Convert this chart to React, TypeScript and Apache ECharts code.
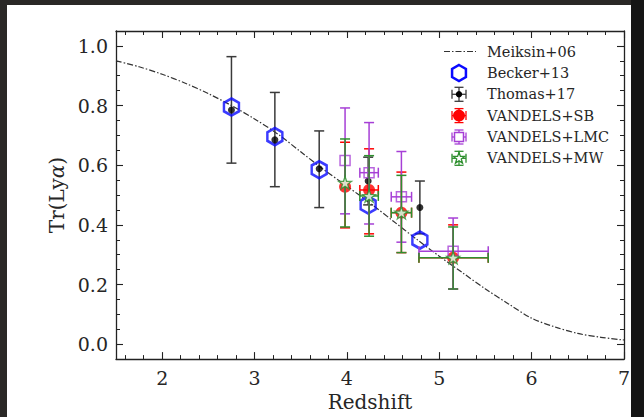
import React, { useEffect, useRef } from "react";
import * as echarts from "echarts";

// ---- data ----
const meiksinZ = [1.5, 1.75, 2.0, 2.25, 2.5, 2.75, 3.0, 3.25, 3.5, 3.75, 4.0, 4.25, 4.5, 4.75, 5.0, 5.25, 5.5, 5.75, 6.0, 6.25, 6.5, 6.75, 7.0];
const meiksinTr = [0.95, 0.93, 0.905, 0.875, 0.84, 0.8, 0.755, 0.705, 0.645, 0.585, 0.53, 0.473, 0.413, 0.353, 0.295, 0.24, 0.185, 0.135, 0.087, 0.058, 0.036, 0.023, 0.014];

const beckerZ = [2.75, 3.22, 3.7, 4.23, 4.79];
const beckerTr = [0.795, 0.696, 0.585, 0.467, 0.349];

const thomasZ = [2.75, 3.22, 3.7, 4.23, 4.79];
const thomasTr = [0.785, 0.685, 0.588, 0.547, 0.458];
const thomasLo = [0.607, 0.528, 0.458, 0.467, 0.37];
const thomasHi = [0.964, 0.844, 0.715, 0.627, 0.547];

const vandelsZ = [3.98, 4.24, 4.59, 5.15];
const vandelsZLo = [3.98, 4.14, 4.48, 4.78];
const vandelsZHi = [3.98, 4.34, 4.7, 5.53];

const sbTr = [0.528, 0.517, 0.441, 0.29];
const sbLo = [0.39, 0.37, 0.307, 0.185];
const sbHi = [0.677, 0.655, 0.577, 0.4];

const lmcTr = [0.616, 0.575, 0.494, 0.312];
const lmcLo = [0.437, 0.403, 0.342, 0.185];
const lmcHi = [0.792, 0.743, 0.646, 0.423];

const mwTr = [0.541, 0.497, 0.441, 0.29];
const mwLo = [0.393, 0.362, 0.307, 0.185];
const mwHi = [0.688, 0.632, 0.566, 0.393];

const xMajor = [2, 3, 4, 5, 6, 7];
const xMinor = [1.6, 1.8, 2.0, 2.2, 2.4, 2.6, 2.8, 3.0, 3.2, 3.4, 3.6, 3.8, 4.0, 4.2, 4.4, 4.6, 4.8, 5.0, 5.2, 5.4, 5.6, 5.8, 6.0, 6.2, 6.4, 6.6, 6.8, 7.0];
const yMajor = [0, 0.2, 0.4, 0.6, 0.8, 1.0];
const yMinor = [0, 0.05, 0.1, 0.15, 0.2, 0.25, 0.3, 0.35, 0.4, 0.45, 0.5, 0.55, 0.6, 0.65, 0.7, 0.75, 0.8, 0.85, 0.9, 0.95, 1.0];

const legendNames = ["Meiksin+06", "Becker+13", "Thomas+17", "VANDELS+SB", "VANDELS+LMC", "VANDELS+MW"];

const C_BLUE = "#0a0aff";
const C_BLACK = "#3a3a3a";
const C_RED = "#ff0000";
const C_PURPLE = "#a63fd6";
const C_GREEN = "#2e8f2e";
const FONT = "DejaVu Serif";

const HEX_PATH = "path://M0,-10 L8.66,-5 L8.66,5 L0,10 L-8.66,5 L-8.66,-5 Z";
const STAR_PATH = "path://M0,-10 L2.35,-3.24 L9.51,-3.09 L3.8,1.24 L5.88,8.09 L0,4 L-5.88,8.09 L-3.8,1.24 L-9.51,-3.09 L-2.35,-3.24 Z";

function errRows(z: number[], zl: number[], zh: number[], v: number[], lo: number[], hi: number[]) {
  return z.map((x, i) => [x, v[i], zl[i], zh[i], lo[i], hi[i]]);
}

function errRender(color: string, cap: number) {
  return (params: any, api: any) => {
    const x = api.value(0), y = api.value(1), xl = api.value(2), xh = api.value(3), yl = api.value(4), yh = api.value(5);
    const style = { stroke: color, lineWidth: 1.5, fill: null };
    const ch: any[] = [];
    const a = api.coord([x, yl]);
    const b = api.coord([x, yh]);
    ch.push({ type: "line", shape: { x1: a[0], y1: a[1], x2: b[0], y2: b[1] }, style });
    ch.push({ type: "line", shape: { x1: a[0] - cap, y1: a[1], x2: a[0] + cap, y2: a[1] }, style });
    ch.push({ type: "line", shape: { x1: b[0] - cap, y1: b[1], x2: b[0] + cap, y2: b[1] }, style });
    if (xh > xl) {
      const c = api.coord([xl, y]);
      const d = api.coord([xh, y]);
      ch.push({ type: "line", shape: { x1: c[0], y1: c[1], x2: d[0], y2: d[1] }, style });
      ch.push({ type: "line", shape: { x1: c[0], y1: c[1] - cap, x2: c[0], y2: c[1] + cap }, style });
      ch.push({ type: "line", shape: { x1: d[0], y1: d[1] - cap, x2: d[0], y2: d[1] + cap }, style });
    }
    return { type: "group", children: ch };
  };
}

function legendCross(cx: number, cy: number, color: string, h: number) {
  const st = { stroke: color, lineWidth: 1.3 };
  const cap = 4.5;
  return [
    { type: "line", shape: { x1: cx, y1: cy - h, x2: cx, y2: cy + h }, style: st },
    { type: "line", shape: { x1: cx - h, y1: cy, x2: cx + h, y2: cy }, style: st },
    { type: "line", shape: { x1: cx - cap, y1: cy - h, x2: cx + cap, y2: cy - h }, style: st },
    { type: "line", shape: { x1: cx - cap, y1: cy + h, x2: cx + cap, y2: cy + h }, style: st },
    { type: "line", shape: { x1: cx - h, y1: cy - cap, x2: cx - h, y2: cy + cap }, style: st },
    { type: "line", shape: { x1: cx + h, y1: cy - cap, x2: cx + h, y2: cy + cap }, style: st },
  ];
}

function starPoints(cx: number, cy: number, s: number) {
  const p = [[0, -10], [2.35, -3.24], [9.51, -3.09], [3.8, 1.24], [5.88, 8.09], [0, 4], [-5.88, 8.09], [-3.8, 1.24], [-9.51, -3.09], [-2.35, -3.24]];
  return p.map(([x, y]) => [cx + x * s, cy + y * s]);
}

function buildLegend() {
  const mx = 459;
  const tx = 487;
  const rows = [51.5, 73, 94.3, 115.6, 137, 158.3];
  const els: any[] = [];
  rows.forEach((y, i) => {
    els.push({
      type: "text",
      x: tx,
      y,
      style: { text: legendNames[i], font: `14.5px '${FONT}'`, fill: "#262626", textVerticalAlign: "middle", verticalAlign: "middle" },
    });
  });
  els.push({ type: "line", shape: { x1: 444, y1: rows[0], x2: 476, y2: rows[0] }, style: { stroke: "#333", lineWidth: 1.2, lineDash: [6, 2, 1.5, 2] } });
  const r = 8;
  els.push({
    type: "polygon",
    shape: { points: [[mx, rows[1] - r], [mx + 0.866 * r, rows[1] - r / 2], [mx + 0.866 * r, rows[1] + r / 2], [mx, rows[1] + r], [mx - 0.866 * r, rows[1] + r / 2], [mx - 0.866 * r, rows[1] - r / 2]] },
    style: { fill: "none", stroke: C_BLUE, lineWidth: 2.5 },
  });
  els.push(...legendCross(mx, rows[2], C_BLACK, 7));
  els.push({ type: "circle", shape: { cx: mx, cy: rows[2], r: 3.2 }, style: { fill: "#000" } });
  els.push(...legendCross(mx, rows[3], C_RED, 7));
  els.push({ type: "circle", shape: { cx: mx, cy: rows[3], r: 6 }, style: { fill: C_RED } });
  els.push(...legendCross(mx, rows[4], C_PURPLE, 7));
  els.push({ type: "rect", shape: { x: mx - 4.5, y: rows[4] - 4.5, width: 9, height: 9 }, style: { fill: "#fff", stroke: C_PURPLE, lineWidth: 1.5 } });
  els.push(...legendCross(mx, rows[5], C_GREEN, 7));
  els.push({ type: "polygon", shape: { points: starPoints(mx, rows[5], 0.6) }, style: { fill: "#fff", stroke: C_GREEN, lineWidth: 1.3 } });
  return els;
}

export default function App() {
  const ref = useRef<HTMLDivElement>(null);
  useEffect(() => {
    if (!ref.current) return;
    const chart = echarts.init(ref.current, undefined, { renderer: "svg" });
    const axisLine = { show: true, onZero: false, lineStyle: { color: "#222", width: 1.3 } };
    const noLine = { show: false, onZero: false };
    const labelStyle = { fontFamily: FONT, fontSize: 19, color: "#262626" };
    const xBase = { type: "value", min: 1.5, max: 7, splitLine: { show: false }, gridIndex: 0 };
    const yBase = { type: "value", min: -0.05, max: 1.05, splitLine: { show: false }, gridIndex: 0 };
    const majTick = (vals: number[]) => ({ show: true, inside: true, length: 7, customValues: vals, lineStyle: { color: "#222", width: 1.1 } });
    const minTick = (vals: number[]) => ({ show: true, inside: true, length: 4, customValues: vals, lineStyle: { color: "#222", width: 1 } });

    const option: any = {
      animation: false,
      backgroundColor: "#ffffff",
      grid: { left: 116, right: 20, top: 31, bottom: 56, containLabel: false },
      xAxis: [
        {
          ...xBase,
          position: "bottom",
          axisLine,
          axisTick: majTick(xMajor),
          axisLabel: { ...labelStyle, margin: 9, customValues: xMajor, formatter: (v: number) => String(v) },
          name: "Redshift",
          nameLocation: "middle",
          nameGap: 31,
          nameTextStyle: { fontFamily: FONT, fontSize: 20, color: "#262626" },
        },
        { ...xBase, position: "bottom", axisLine: noLine, axisTick: minTick(xMinor), axisLabel: { show: false } },
        { ...xBase, position: "top", axisLine, axisTick: majTick(xMajor), axisLabel: { show: false } },
        { ...xBase, position: "top", axisLine: noLine, axisTick: minTick(xMinor), axisLabel: { show: false } },
      ],
      yAxis: [
        {
          ...yBase,
          position: "left",
          axisLine,
          axisTick: majTick(yMajor),
          axisLabel: { ...labelStyle, margin: 8, customValues: yMajor, formatter: (v: number) => v.toFixed(1) },
          name: "Tr(Ly{a|α})",
          nameLocation: "middle",
          nameGap: 37,
          nameRotate: 90,
          nameTextStyle: {
            fontFamily: FONT,
            fontSize: 20,
            color: "#262626",
            rich: { a: { fontFamily: FONT, fontSize: 20, fontStyle: "italic", color: "#262626" } },
          },
        },
        { ...yBase, position: "left", axisLine: noLine, axisTick: minTick(yMinor), axisLabel: { show: false } },
        { ...yBase, position: "right", axisLine, axisTick: majTick(yMajor), axisLabel: { show: false } },
        { ...yBase, position: "right", axisLine: noLine, axisTick: minTick(yMinor), axisLabel: { show: false } },
      ],
      series: [
        {
          name: "Meiksin+06",
          type: "line",
          data: meiksinZ.map((z, i) => [z, meiksinTr[i]]),
          showSymbol: false,
          smooth: 0.3,
          lineStyle: { color: "#333", width: 1.2, type: [6, 2, 1.5, 2] },
          z: 1,
        },
        {
          name: "Thomas+17 err",
          type: "custom",
          renderItem: errRender(C_BLACK, 5),
          data: errRows(thomasZ, thomasZ, thomasZ, thomasTr, thomasLo, thomasHi),
          encode: { x: [0, 2, 3], y: [1, 4, 5] },
          z: 2,
        },
        {
          name: "Becker+13",
          type: "scatter",
          data: beckerZ.map((z, i) => [z, beckerTr[i]]),
          symbol: HEX_PATH,
          symbolSize: [15, 17],
          itemStyle: { color: "rgba(255,255,255,0)", borderColor: C_BLUE, borderWidth: 2.6 },
          z: 3,
        },
        {
          name: "Thomas+17",
          type: "scatter",
          data: thomasZ.map((z, i) => [z, thomasTr[i]]),
          symbol: "circle",
          symbolSize: 7,
          itemStyle: { color: "#000" },
          z: 4,
        },
        {
          name: "VANDELS+SB err",
          type: "custom",
          renderItem: errRender(C_RED, 5),
          data: errRows(vandelsZ, vandelsZLo, vandelsZHi, sbTr, sbLo, sbHi),
          encode: { x: [0, 2, 3], y: [1, 4, 5] },
          z: 5,
        },
        {
          name: "VANDELS+SB",
          type: "scatter",
          data: vandelsZ.map((z, i) => [z, sbTr[i]]),
          symbol: "circle",
          symbolSize: 12,
          itemStyle: { color: C_RED },
          z: 6,
        },
        {
          name: "VANDELS+LMC err",
          type: "custom",
          renderItem: errRender(C_PURPLE, 5),
          data: errRows(vandelsZ, vandelsZLo, vandelsZHi, lmcTr, lmcLo, lmcHi),
          encode: { x: [0, 2, 3], y: [1, 4, 5] },
          z: 7,
        },
        {
          name: "VANDELS+LMC",
          type: "scatter",
          data: vandelsZ.map((z, i) => [z, lmcTr[i]]),
          symbol: "rect",
          symbolSize: 10,
          itemStyle: { color: "rgba(255,255,255,0)", borderColor: C_PURPLE, borderWidth: 1.5 },
          z: 8,
        },
        {
          name: "VANDELS+MW err",
          type: "custom",
          renderItem: errRender(C_GREEN, 5),
          data: errRows(vandelsZ, vandelsZLo, vandelsZHi, mwTr, mwLo, mwHi),
          encode: { x: [0, 2, 3], y: [1, 4, 5] },
          z: 9,
        },
        {
          name: "VANDELS+MW",
          type: "scatter",
          data: vandelsZ.map((z, i) => [z, mwTr[i]]),
          symbol: STAR_PATH,
          symbolSize: [13, 12.4],
          itemStyle: { color: "#f4fff0", borderColor: C_GREEN, borderWidth: 1.3 },
          z: 10,
        },
      ],
      graphic: [
        { type: "rect", shape: { x: 0, y: 0, width: 7, height: 417 }, style: { fill: "#2a2826" }, z: 100 },
        { type: "rect", shape: { x: 0, y: 0, width: 644, height: 5 }, style: { fill: "#2a2826" }, z: 100 },
        { type: "rect", shape: { x: 631, y: 0, width: 13, height: 417 }, style: { fill: "#151515" }, z: 100 },
        ...buildLegend(),
      ],
    };
    chart.setOption(option);
    return () => chart.dispose();
  }, []);
  return <div ref={ref} style={{ position: "absolute", left: 0, top: 0, width: 644, height: 417 }} />;
}
